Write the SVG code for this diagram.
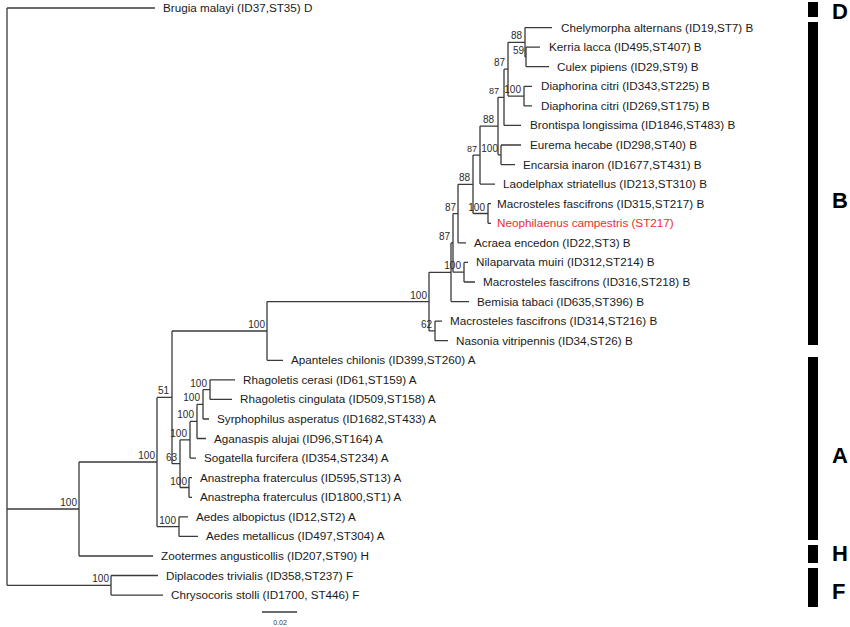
<svg xmlns="http://www.w3.org/2000/svg" width="850" height="627" viewBox="0 0 850 627">
<style>
.br{fill:none;stroke:#3a3a3a;stroke-width:1.3}
.lf{font-family:"Liberation Sans",Arial,sans-serif;font-size:11.7px;fill:#1a1a1a}
.red{fill:#e8302c}
.sp{font-family:"Liberation Sans",Arial,sans-serif;font-size:10px;fill:#2a2a2a;text-anchor:end}
.sm{font-size:9px}
.grp{font-family:"Liberation Sans",Arial,sans-serif;font-size:22px;font-weight:bold;fill:#000}
.bar{fill:#000}
</style>
<rect width="850" height="627" fill="#fff"/>
<g id="connectors" class="br">
<path d="M7,8V585.3M7,8H155M7,509H79M7,585.3H111"/>
<path d="M79,462V556M79,462H157M79,556H153"/>
<path d="M111,575.5V595.1M111,575.5H158M111,595.1H163"/>
<path d="M157,397.4V526.6M157,397.4H172M157,526.6H179"/>
<path d="M172,331V463.7M172,331H267M172,463.7H180"/>
<path d="M267,301.6V360.3M267,301.6H429M267,360.3H283"/>
<path d="M429,272.3V330.9M429,272.3H451M429,330.9H435"/>
<path d="M435,321.1V340.7M435,321.1H442M435,340.7H448"/>
<path d="M451,242.9V301.6M451,242.9H453M451,301.6H469"/>
<path d="M453,213.6V272.2M453,213.6H458M453,272.2H464"/>
<path d="M464,262.4V282M464,262.4H468M464,282H475"/>
<path d="M458,184.3V242.8M458,184.3H473M458,242.8H466"/>
<path d="M473,155.1V213.5M473,155.1H480M473,213.5H488"/>
<path d="M488,203.7V223.3M488,203.7H491M488,223.3H491"/>
<path d="M480,126.1V184.1M480,126.1H498M480,184.1H495"/>
<path d="M498,97.3V154.8M498,97.3H504M498,154.8H501"/>
<path d="M501,145V164.6M501,145H521M501,164.6H515"/>
<path d="M504,69.2V125.4M504,69.2H508M504,125.4H521"/>
<path d="M508,42.3V96.1M508,42.3H525M508,96.1H524"/>
<path d="M524,86.3V105.9M524,86.3H532M524,105.9H532"/>
<path d="M525,27.6V56.9M525,27.6H552M525,56.9H526"/>
<path d="M526,47.1V66.7M526,47.1H540M526,66.7H549"/>
<path d="M180,439.8V487.5M180,439.8H190M180,487.5H189"/>
<path d="M190,421.4V458.1M190,421.4H197M190,458.1H196"/>
<path d="M197,404.3V438.5M197,404.3H203M197,438.5H206"/>
<path d="M203,389.6V419M203,389.6H210M203,419H209"/>
<path d="M210,379.8V399.4M210,379.8H235M210,399.4H232"/>
<path d="M189,477.7V497.3M189,477.7H192M189,497.3H192"/>
<path d="M179,516.8V536.4M179,516.8H188M179,536.4H198"/>
<path d="M262,612H297"/>
</g>
<g id="support">
<text class="sp" x="77" y="506">100</text>
<text class="sp" x="109" y="582">100</text>
<text class="sp" x="155" y="459">100</text>
<text class="sp" x="169" y="394">51</text>
<text class="sp" x="265" y="328">100</text>
<text class="sp" x="427" y="298.5">100</text>
<text class="sp" x="432" y="328">62</text>
<text class="sp" x="461" y="269">100</text>
<text class="sp" x="450" y="240">87</text>
<text class="sp" x="456" y="210.5">87</text>
<text class="sp" x="470" y="181">88</text>
<text class="sp" x="485" y="210.5">100</text>
<text class="sp sm" x="477" y="152">87</text>
<text class="sp" x="494" y="123">88</text>
<text class="sp" x="498" y="151.5">100</text>
<text class="sp sm" x="499" y="94">87</text>
<text class="sp" x="505" y="66">87</text>
<text class="sp" x="521" y="93">100</text>
<text class="sp" x="522" y="39">88</text>
<text class="sp" x="524" y="54">59</text>
<text class="sp" x="207" y="386.5">100</text>
<text class="sp" x="200" y="401">100</text>
<text class="sp" x="194" y="418">100</text>
<text class="sp" x="187" y="436.5">100</text>
<text class="sp" x="177" y="460.5">63</text>
<text class="sp" x="187" y="484.5">100</text>
<text class="sp" x="176" y="523.5">100</text>
</g>
<g id="n-brugia"><text class="lf" x="163" y="12">Brugia malayi (ID37,ST35) D</text></g>
<g id="n-chelymorpha"><text class="lf" x="561" y="31.6">Chelymorpha alternans (ID19,ST7) B</text></g>
<g id="n-kerria"><text class="lf" x="549" y="51.1">Kerria lacca (ID495,ST407) B</text></g>
<g id="n-culex"><text class="lf" x="557" y="70.7">Culex pipiens (ID29,ST9) B</text></g>
<g id="n-diaphorina1"><text class="lf" x="541" y="90.3">Diaphorina citri (ID343,ST225) B</text></g>
<g id="n-diaphorina2"><text class="lf" x="541" y="109.9">Diaphorina citri (ID269,ST175) B</text></g>
<g id="n-brontispa"><text class="lf" x="530" y="129.4">Brontispa longissima (ID1846,ST483) B</text></g>
<g id="n-eurema"><text class="lf" x="530" y="149">Eurema hecabe (ID298,ST40) B</text></g>
<g id="n-encarsia"><text class="lf" x="523" y="168.6">Encarsia inaron (ID1677,ST431) B</text></g>
<g id="n-laodelphax"><text class="lf" x="503" y="188.1">Laodelphax striatellus (ID213,ST310) B</text></g>
<g id="n-macrosteles315"><text class="lf" x="497" y="207.7">Macrosteles fascifrons (ID315,ST217) B</text></g>
<g id="n-neophilaenus"><text class="lf red" x="497" y="227.3">Neophilaenus campestris (ST217)</text></g>
<g id="n-acraea"><text class="lf" x="474" y="246.8">Acraea encedon (ID22,ST3) B</text></g>
<g id="n-nilaparvata"><text class="lf" x="476" y="266.4">Nilaparvata muiri (ID312,ST214) B</text></g>
<g id="n-macrosteles316"><text class="lf" x="483" y="286">Macrosteles fascifrons (ID316,ST218) B</text></g>
<g id="n-bemisia"><text class="lf" x="477" y="305.6">Bemisia tabaci (ID635,ST396) B</text></g>
<g id="n-macrosteles314"><text class="lf" x="450" y="325.1">Macrosteles fascifrons (ID314,ST216) B</text></g>
<g id="n-nasonia"><text class="lf" x="456" y="344.7">Nasonia vitripennis (ID34,ST26) B</text></g>
<g id="n-apanteles"><text class="lf" x="291" y="364.3">Apanteles chilonis (ID399,ST260) A</text></g>
<g id="n-rcerasi"><text class="lf" x="243" y="383.8">Rhagoletis cerasi (ID61,ST159) A</text></g>
<g id="n-rcingulata"><text class="lf" x="240" y="403.4">Rhagoletis cingulata (ID509,ST158) A</text></g>
<g id="n-syrphophilus"><text class="lf" x="217" y="423">Syrphophilus asperatus (ID1682,ST433) A</text></g>
<g id="n-aganaspis"><text class="lf" x="214" y="442.5">Aganaspis alujai (ID96,ST164) A</text></g>
<g id="n-sogatella"><text class="lf" x="204" y="462.1">Sogatella furcifera (ID354,ST234) A</text></g>
<g id="n-anastrepha595"><text class="lf" x="200" y="481.7">Anastrepha fraterculus (ID595,ST13) A</text></g>
<g id="n-anastrepha1800"><text class="lf" x="200" y="501.3">Anastrepha fraterculus (ID1800,ST1) A</text></g>
<g id="n-aedesalb"><text class="lf" x="196" y="520.8">Aedes albopictus (ID12,ST2) A</text></g>
<g id="n-aedesmet"><text class="lf" x="206" y="540.4">Aedes metallicus (ID497,ST304) A</text></g>
<g id="n-zootermes"><text class="lf" x="161" y="560">Zootermes angusticollis (ID207,ST90) H</text></g>
<g id="n-diplacodes"><text class="lf" x="166" y="579.5">Diplacodes trivialis (ID358,ST237) F</text></g>
<g id="n-chrysocoris"><text class="lf" x="171" y="599.1">Chrysocoris stolli (ID1700, ST446) F</text></g>
<g id="scale"><text x="280" y="625" font-family="Liberation Sans,Arial,sans-serif" font-size="7" fill="#333" text-anchor="middle">0.02</text></g>
<g id="group-D"><rect class="bar" x="808" y="2" width="10" height="15"/><text class="grp" x="832" y="19">D</text></g>
<g id="group-B"><rect class="bar" x="808" y="22" width="10" height="323"/><text class="grp" x="832" y="208">B</text></g>
<g id="group-A"><rect class="bar" x="808" y="357" width="10" height="183"/><text class="grp" x="832" y="463">A</text></g>
<g id="group-H"><rect class="bar" x="808" y="545" width="10" height="18"/><text class="grp" x="832" y="561">H</text></g>
<g id="group-F"><rect class="bar" x="808" y="568" width="10" height="39"/><text class="grp" x="832" y="599">F</text></g>
</svg>
